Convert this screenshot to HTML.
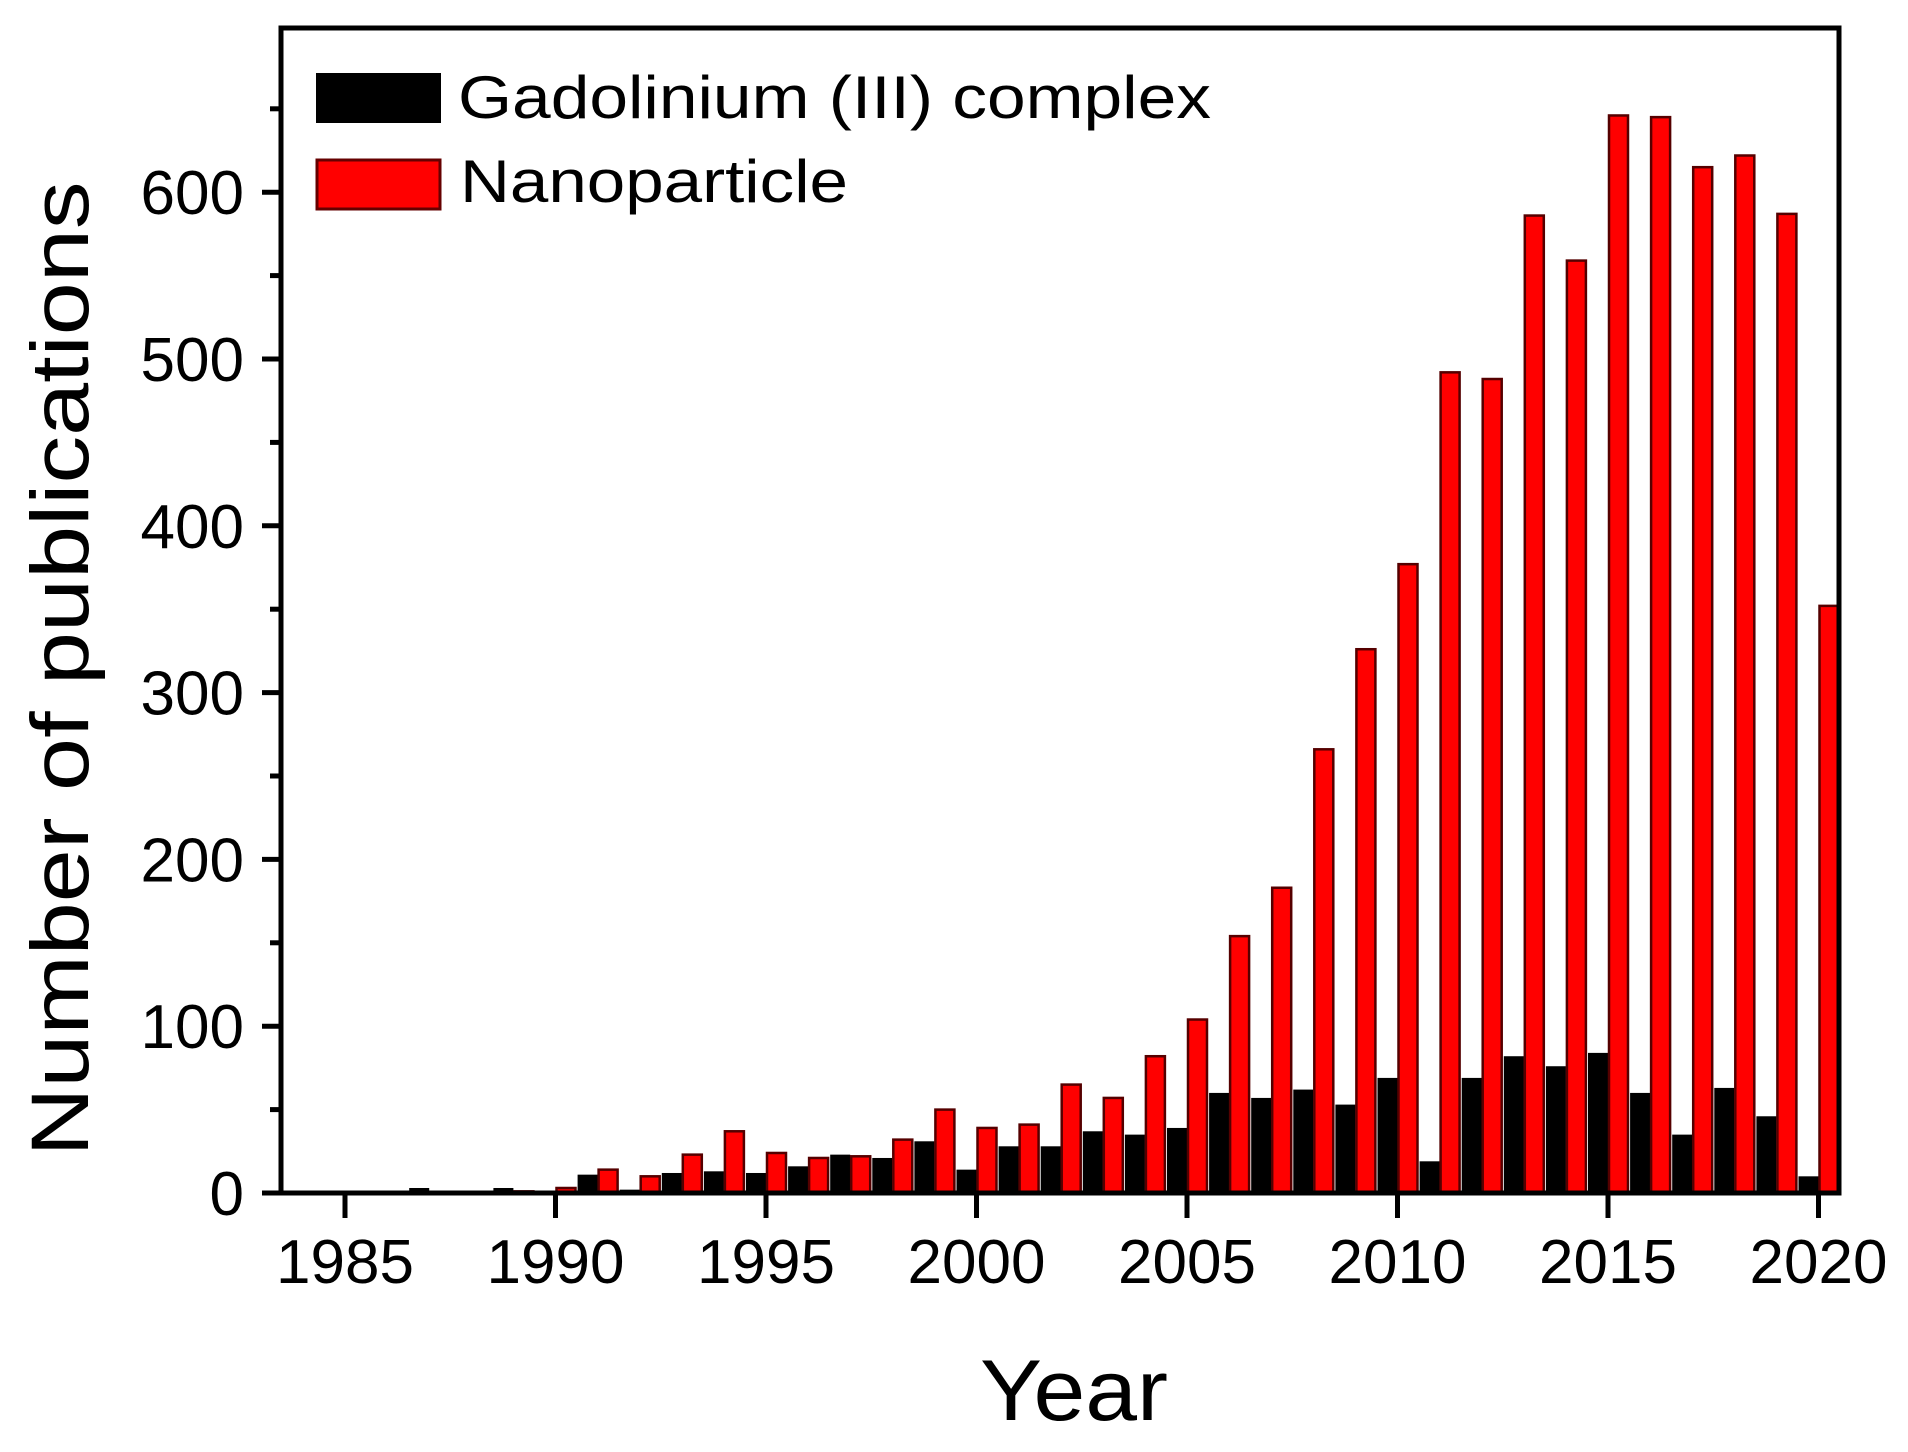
<!DOCTYPE html>
<html><head><meta charset="utf-8"><style>html,body{margin:0;padding:0;background:#fff;}svg{display:block}</style></head>
<body>
<svg id="s" width="1908" height="1452" viewBox="0 0 1908 1452" xmlns="http://www.w3.org/2000/svg" font-family="'Liberation Sans', Arial, sans-serif">
<rect width="1908" height="1452" fill="#fff"/>
<g id="bars"></g>
<rect x="281" y="28" width="1558" height="1165" fill="none" stroke="#000" stroke-width="5"/>
<g id="ticks" stroke="#000" stroke-width="5"></g>
<g id="labels" font-size="62" fill="#000"></g>
<rect x="316" y="73" width="125" height="50" fill="#000"/>
<rect x="317" y="160" width="123" height="49" fill="#f00" stroke="#600" stroke-width="3"/>
<text x="458" y="118" font-size="60" textLength="753" lengthAdjust="spacingAndGlyphs">Gadolinium (III) complex</text>
<text x="460" y="202" font-size="60" textLength="388" lengthAdjust="spacingAndGlyphs">Nanoparticle</text>
<text x="980" y="1420" font-size="86" textLength="188" lengthAdjust="spacingAndGlyphs">Year</text>
<text transform="translate(88,669) rotate(-90)" text-anchor="middle" font-size="82" textLength="975" lengthAdjust="spacingAndGlyphs">Number of publications</text>
</svg>
<script>
var ns="http://www.w3.org/2000/svg";
function el(p,t,a,txt){var e=document.createElementNS(ns,t);for(var k in a)e.setAttribute(k,a[k]);if(txt!==undefined)e.textContent=txt;p.appendChild(e);return e;}
var B=[1,0,1,3,0,3,1,11,2,12,13,12,16,23,21,31,14,28,28,37,35,39,60,57,62,53,69,19,69,82,76,84,60,35,63,46,10];
var R=[0,0,0,0,0,1,3,14,10,23,37,24,21,22,32,50,39,41,65,57,82,104,154,183,266,326,377,492,488,586,559,646,645,615,622,587,352];
var y0=1193,k=1.668,px=42.1;
function tx(y){return 345+(y-1985)*px;}
var g=document.getElementById("bars");
for(var i=0;i<B.length;i++){var yr=1984+i,t=tx(yr);
 if(B[i]>0){var h=B[i]*k;el(g,"rect",{x:t-20,y:y0-h,width:20,height:h,fill:"#000"});}
 if(R[i]>0){var h2=R[i]*k;el(g,"rect",{x:t+1,y:y0-h2,width:19,height:h2,fill:"#f00",stroke:"#500","stroke-width":2.5});}
}
var tk=document.getElementById("ticks"),lb=document.getElementById("labels");
for(var v=0;v<=650;v+=50){var y=y0-v*k;var major=v%100==0;
 el(tk,"line",{x1:281,x2:major?262:270,y1:y,y2:y});
 if(major)el(lb,"text",{x:244,y:y+22,"text-anchor":"end"},String(v));}
for(var yr=1985;yr<=2020;yr+=5){var x=tx(yr);el(tk,"line",{x1:x,x2:x,y1:1193,y2:1218});
 el(lb,"text",{x:x,y:1283,"text-anchor":"middle"},String(yr));}
</script>
</body></html>
